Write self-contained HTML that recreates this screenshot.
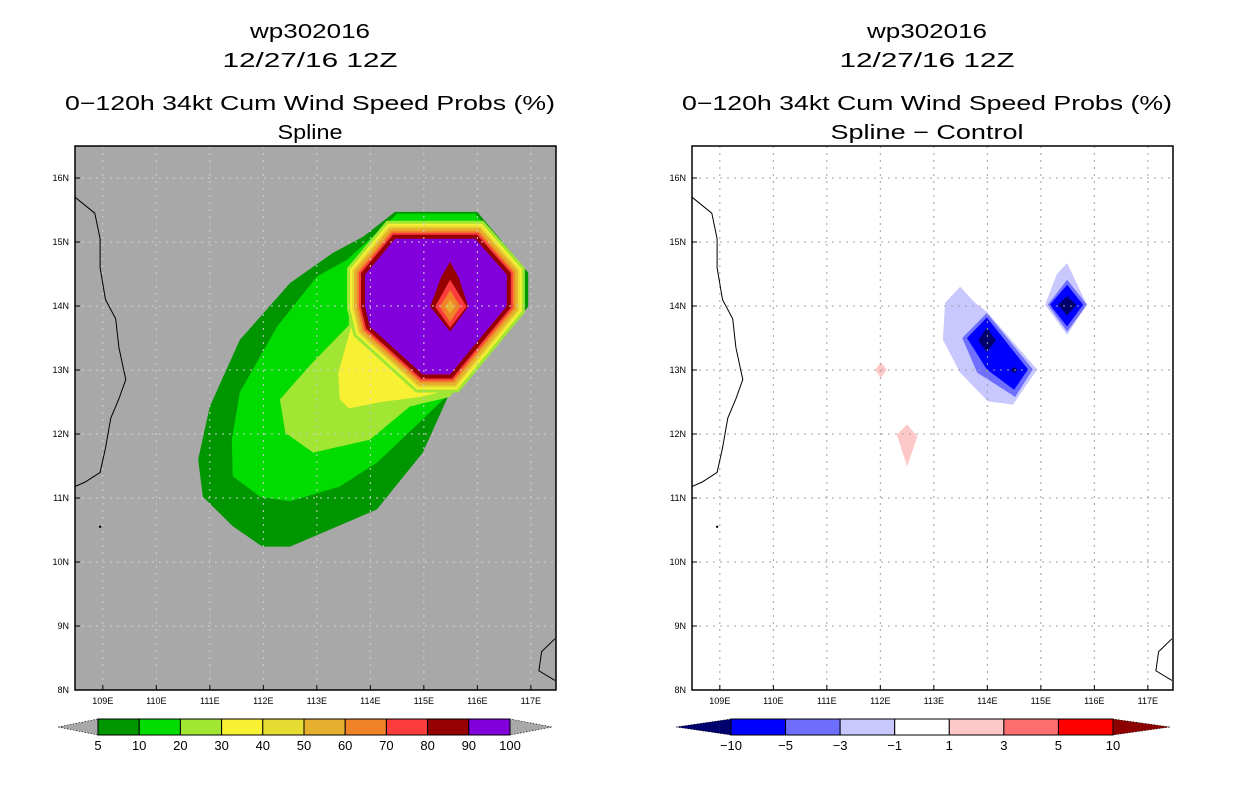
<!DOCTYPE html>
<html><head><meta charset="utf-8"><style>
html,body{margin:0;padding:0;background:#fff;}
svg{display:block;font-family:"Liberation Sans",sans-serif;}
</style></head><body>
<svg id="chart" width="1236" height="800" viewBox="0 0 1236 800">
</svg>
<script>
// ---- data ----
const lonTicks=[109,110,111,112,113,114,115,116,117];
const latTicks=[8,9,10,11,12,13,14,15,16];
const probLevels=[5,10,20,30,40,50,60,70,80,90,100];
const probColors=["#009600","#00dc00","#a0e632","#f8f032","#e6dc32","#e6af2d","#f08228","#fa3c3c","#960000","#8200dc"];
const diffLevels=[-10,-5,-3,-1,1,3,5,10];
const diffColors=["#00006e","#0000ff","#6e6eff","#c8c8ff","#ffffff","#ffc8c8","#ff6e6e","#ff0000","#8c0000"];
// probability contours (lon,lat)
const p5=[[114.46,15.47],[116.0,15.47],[116.95,14.52],[116.95,13.99],[115.45,12.58],[114.98,11.71],[114.12,10.82],[112.5,10.24],[111.98,10.24],[111.43,10.56],[110.87,11.02],[110.78,11.6],[111.0,12.43],[111.56,13.47],[112.5,14.36],[113.3,14.83],[113.86,15.08]];
const p10=[[114.5,15.44],[115.96,15.44],[116.89,14.5],[116.89,14.0],[115.99,13.05],[115.3,12.49],[114.98,12.23],[114.12,11.55],[113.43,11.18],[112.5,10.95],[111.94,11.02],[111.43,11.34],[111.41,11.91],[111.56,12.65],[111.94,13.21],[112.26,13.68],[113.0,14.46],[113.56,14.72],[114.12,15.14]];
const p20=[[113.6,14.5],[113.6,13.7],[112.9,13.1],[112.31,12.54],[112.41,12.02],[112.93,11.71],[113.99,11.91],[114.74,12.43],[115.49,12.58],[116.0,13.2]];
const p30=[[113.6,14.45],[113.65,13.7],[113.4,12.95],[113.43,12.54],[113.6,12.4],[114.2,12.5],[114.95,12.58],[115.5,12.7]];
const p90=[[114.46,15.05],[115.96,15.05],[116.55,14.49],[116.55,14.0],[115.49,12.93],[114.98,12.93],[113.99,13.68],[113.9,13.99],[113.9,14.49]];
const ringLevels=[20,30,40,50,60,70,80];
const ringWidth=[18,15,13,11,8,6,4];
const core80=[[115.49,14.69],[115.65,14.45],[115.83,13.99],[115.49,13.6],[115.12,13.99],[115.32,14.45]];
const core70=[[115.49,14.41],[115.80,13.99],[115.49,13.66],[115.21,13.99]];
const core60=[[115.49,14.25],[115.68,13.99],[115.49,13.75],[115.30,13.99]];
const core50=[[115.49,14.1],[115.58,13.99],[115.49,13.88],[115.40,13.99]];
// difference contours
const dA1=[[113.49,14.3],[113.77,14.05],[113.99,13.91],[114.93,13.01],[114.48,12.46],[114.01,12.51],[113.49,12.96],[113.17,13.47],[113.21,14.05]];
const dA3=[[113.99,13.89],[114.85,13.01],[114.52,12.58],[113.81,12.96],[113.53,13.5]];
const dA5=[[113.99,13.82],[114.76,13.01],[114.5,12.69],[113.99,13.01],[113.62,13.5]];
const dA10=[[113.99,13.66],[114.16,13.46],[113.99,13.28],[113.83,13.46]];
const dA10b=[[114.5,13.05],[114.57,13.0],[114.5,12.95],[114.43,13.0]];
const dB1=[[115.49,14.67],[115.86,14.02],[115.49,13.55],[115.08,14.02],[115.3,14.5]];
const dB3=[[115.49,14.41],[115.86,14.02],[115.49,13.6],[115.13,14.02]];
const dB5=[[115.49,14.33],[115.79,14.02],[115.49,13.68],[115.17,14.02]];
const dB10=[[115.49,14.15],[115.66,14.02],[115.49,13.85],[115.32,14.02]];
const dP1=[[112.01,13.12],[112.12,13.0],[112.01,12.88],[111.9,13.0]];
const dP2=[[112.5,12.15],[112.69,11.96],[112.5,11.49],[112.31,11.99]];
const coast=[[108.48,15.7],[108.85,15.45],[108.95,15.05],[108.95,14.6],[109.05,14.1],[109.24,13.8],[109.3,13.35],[109.43,12.85],[109.3,12.55],[109.15,12.25],[109.05,11.78],[108.95,11.4],[108.67,11.25],[108.48,11.18]];
const coast2=[[117.45,8.8],[117.2,8.6],[117.15,8.3],[117.45,8.15]];

// ---- projection ----
const NS="http://www.w3.org/2000/svg";
const svg=document.getElementById('chart');
const X0=75,X1=556,Y0=146,Y1=690,LON0=108.48,LON1=117.47,LAT0=8,LAT1=16.5;
function px(lon,off){return off+X0+(lon-LON0)/(LON1-LON0)*(X1-X0);}
function py(lat){return Y1-(lat-LAT0)/(LAT1-LAT0)*(Y1-Y0);}
function el(tag,attrs,parent){const e=document.createElementNS(NS,tag);for(const k in attrs)e.setAttribute(k,attrs[k]);(parent||svg).appendChild(e);return e;}
function pts(arr,off){return arr.map(p=>px(p[0],off).toFixed(1)+","+py(p[1]).toFixed(1)).join(" ");}
function poly(arr,off,fill,name,g){const e=el('polygon',{points:pts(arr,off),fill:fill},g);


return e;}
function text(x,y,s,size,anchor,name,g,len){const t=el('text',{x:x,y:y,'font-size':size,'text-anchor':anchor||'middle',fill:'#000'},g);t.textContent=s;
if(len){t.setAttribute('textLength',len);t.setAttribute('lengthAdjust','spacingAndGlyphs');}


return t;}

function panel(off,bg,gridCol,name){
  const g=el('g',{});
  
  
  const cp=el('clipPath',{id:'clip'+off},g);
  el('rect',{x:off+X0,y:Y0,width:X1-X0,height:Y1-Y0},cp);
  const bgr=el('rect',{x:off+X0,y:Y0,width:X1-X0,height:Y1-Y0,fill:bg},g);
  
  
  const inner=el('g',{'clip-path':'url(#clip'+off+')'},g);
  return {g,inner};
}
function gridAndAxes(P,off,gridCol){
  lonTicks.forEach(l=>{const x=px(l,off);
    const ln=el('line',{x1:x,y1:Y0,x2:x,y2:Y1,stroke:gridCol,'stroke-width':1,'stroke-dasharray':'2,5'},P.inner);
    
    
    el('line',{x1:x,y1:Y1,x2:x,y2:Y1-5,stroke:'#000'},P.g);
    text(x,704,l+"E",9,'middle','lon-tick-label',P.g);});
  latTicks.forEach(l=>{const y=py(l);
    if(l>LAT0){const ln=el('line',{x1:off+X0,y1:y,x2:off+X1,y2:y,stroke:gridCol,'stroke-width':1,'stroke-dasharray':'2,5'},P.inner);
    
    }
    el('line',{x1:off+X0,y1:y,x2:off+X0+5,y2:y,stroke:'#000'},P.g);
    text(off+X0-6,y+3,l+"N",9,'end','lat-tick-label',P.g);});
  const c=el('polyline',{points:pts(coast,off),fill:'none',stroke:'#000','stroke-width':1},P.inner);
  
  
  const c2=el('polyline',{points:pts(coast2,off),fill:'none',stroke:'#000','stroke-width':1},P.inner);
  
  
  el('circle',{cx:px(108.95,off),cy:py(10.55),r:1.2,fill:'#000'},P.inner);
  const fr=el('rect',{x:off+X0,y:Y0,width:X1-X0,height:Y1-Y0,fill:'none',stroke:'#000','stroke-width':1.5},P.g);
  
  
}
function titles(cx,sub,subLen,g){
  text(cx,38,"wp302016",20,'middle','title-storm-id',g,120);
  text(cx,67,"12/27/16 12Z",20,'middle','title-date',g,175);
  text(cx,110,"0−120h 34kt Cum Wind Speed Probs (%)",20,'middle','title-product',g,490);
  text(cx,139,sub,20,'middle','subtitle',g,subLen);
}

// ---- left panel ----
const L=panel(0,'#a8a8a8','#c8c8c8','left-probability-map');
poly(p5,0,probColors[0],'contour-5',L.inner);
poly(p10,0,probColors[1],'contour-10',L.inner);
poly(p20,0,probColors[2],'contour-20',L.inner);
poly(p30,0,probColors[3],'contour-30',L.inner);
ringLevels.forEach((lv,i)=>{
  const r=el('polygon',{points:pts(p90,0),fill:probColors[i+2],stroke:probColors[i+2],'stroke-width':ringWidth[i]*2,'stroke-linejoin':'miter'},L.inner);
  
  
});
poly(p90,0,probColors[9],'contour-90',L.inner);
poly(core80,0,probColors[8],'core-80',L.inner);
poly(core70,0,probColors[7],'core-70',L.inner);
poly(core60,0,probColors[6],'core-60',L.inner);
poly(core50,0,probColors[5],'core-50',L.inner);
gridAndAxes(L,0,'#cfcfcf');
titles(310,"Spline",65,L.g);

// ---- right panel ----
const OFF=617;
const R=panel(OFF,'#ffffff','#a0a0a0','right-difference-map');
poly(dA1,OFF,diffColors[3],'diff-a-minus1',R.inner);
poly(dA3,OFF,diffColors[2],'diff-a-minus3',R.inner);
poly(dA5,OFF,diffColors[1],'diff-a-minus5',R.inner);
poly(dA10,OFF,diffColors[0],'diff-a-minus10',R.inner);
poly(dA10b,OFF,diffColors[0],'diff-a-minus10-small',R.inner);
poly(dB1,OFF,diffColors[3],'diff-b-minus1',R.inner);
poly(dB3,OFF,diffColors[2],'diff-b-minus3',R.inner);
poly(dB5,OFF,diffColors[1],'diff-b-minus5',R.inner);
poly(dB10,OFF,diffColors[0],'diff-b-minus10',R.inner);
poly(dP1,OFF,diffColors[5],'diff-plus1-small',R.inner);
poly(dP2,OFF,diffColors[5],'diff-plus1',R.inner);
gridAndAxes(R,OFF,'#a0a0a0');
titles(927,"Spline − Control",193,R.g);

// ---- colorbars ----
function colorbar(x0,x1,tl,tr,colors,labels,lc,rc,name){
  const g=el('g',{});
  
  
  const y0=719,y1=735,ym=727,n=colors.length,w=(x1-x0)/n;
  const a=el('polygon',{points:`${tl},${ym} ${x0},${y0} ${x0},${y1}`,fill:lc,stroke:'#000','stroke-width':0.6,'stroke-dasharray':'1.5,1.5'},g);
  
  
  const b=el('polygon',{points:`${tr},${ym} ${x1},${y0} ${x1},${y1}`,fill:rc,stroke:'#000','stroke-width':0.6,'stroke-dasharray':'1.5,1.5'},g);
  
  
  colors.forEach((c,i)=>{const r=el('rect',{x:x0+i*w,y:y0,width:w,height:y1-y0,fill:c,stroke:'#000','stroke-width':1},g);
    
    });
  labels.forEach((s,i)=>text(x0+i*w,750,s,13,'middle','colorbar-label',g));
}
colorbar(98,510,58,552,probColors,probLevels.map(String),'#a8a8a8','#a8a8a8','prob-colorbar');
colorbar(731,1113,676,1170,diffColors.slice(1,8),diffLevels.map(v=>v<0?'−'+(-v):String(v)),diffColors[0],diffColors[8],'diff-colorbar');
</script>
</body></html>
